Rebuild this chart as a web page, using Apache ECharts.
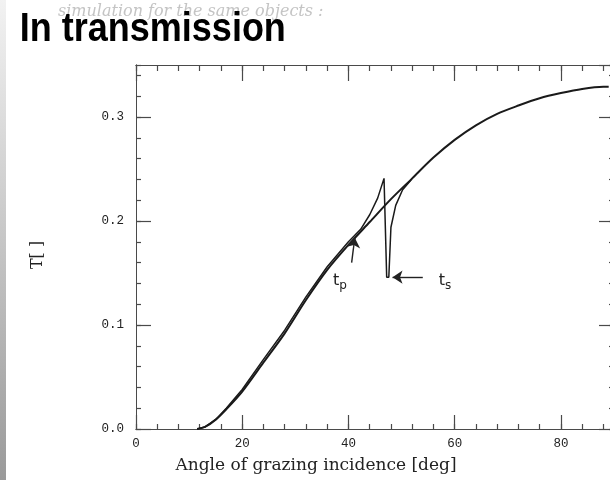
<!DOCTYPE html>
<html>
<head>
<meta charset="utf-8">
<script src="https://cdn.jsdelivr.net/npm/echarts@6/dist/echarts.min.js"></script>
<style>
  html, body { margin: 0; padding: 0; background: #fff; overflow: hidden; }
  #chart { width: 620px; height: 480px; }
</style>
</head>
<body>
<div id="chart"></div>
<script>
// Transmission vs. grazing angle, two polarisations
const tpCurve = [
  [11.5, 0.000], [13, 0.002], [15, 0.009], [17, 0.019], [20, 0.036],
  [24, 0.064], [28, 0.092], [32, 0.124], [36, 0.153], [40, 0.177],
  [44, 0.199], [48, 0.221], [52, 0.241], [56, 0.261], [60, 0.278],
  [64, 0.292], [68, 0.303], [72, 0.311], [76, 0.318], [80, 0.323],
  [84, 0.327], [88, 0.329], [89, 0.329]
];
const tsCurve = [
  [11.5, 0.000], [13, 0.002], [15, 0.009], [17, 0.020], [20, 0.038],
  [24, 0.067], [28, 0.095], [32, 0.127], [36, 0.156], [40, 0.180],
  [42.3, 0.192], [44, 0.206], [45.5, 0.222], [46.7, 0.241],
  [47.2, 0.146], [47.6, 0.146], [48.0, 0.194], [48.9, 0.215],
  [50.2, 0.230], [51.7, 0.239], [52, 0.241]
];
const xTickValues = [0, 20, 40, 60, 80];
const yTickValues = [0.0, 0.1, 0.2, 0.3];
const labelTp = { pos: [38.4, 0.142], arrowFrom: [40.6, 0.160], arrowTo: [41.2, 0.184] };
const labelTs = { pos: [58.2, 0.142], arrowFrom: [54.0, 0.146], arrowTo: [48.3, 0.146] };

const X_MAX = 90, Y_MAX = 0.35;
const ink = '#1a1a1a';
const axisInk = '#4a4a4a';

function xAxisDef(position, interval, tickLen, showLabel) {
  return {
    type: 'value', position, min: 0, max: X_MAX, interval,
    axisLine: { show: true, onZero: false, lineStyle: { color: axisInk, width: 1 } },
    axisTick: { show: true, inside: true, length: tickLen, lineStyle: { color: axisInk, width: 1.2 } },
    axisLabel: {
      show: showLabel, showMaxLabel: false, margin: 8,
      fontFamily: 'Liberation Mono', fontSize: 12.5, color: '#222',
      formatter: v => xTickValues.includes(v) ? String(v) : ''
    },
    splitLine: { show: false }
  };
}
function yAxisDef(position, interval, tickLen, showLabel) {
  return {
    type: 'value', position, min: 0, max: Y_MAX, interval,
    axisLine: { show: true, onZero: false, lineStyle: { color: axisInk, width: 1 } },
    axisTick: { show: true, inside: true, length: tickLen, lineStyle: { color: axisInk, width: 1.2 } },
    axisLabel: {
      show: showLabel, showMaxLabel: false, margin: 12,
      fontFamily: 'Liberation Mono', fontSize: 12.5, color: '#222',
      formatter: v => {
        const hit = yTickValues.find(t => Math.abs(t - v) < 1e-9);
        return hit === undefined ? '' : hit.toFixed(1);
      }
    },
    splitLine: { show: false }
  };
}

const chart = echarts.init(document.getElementById('chart'), null, { renderer: 'canvas' });
chart.setOption({
  animation: false,
  backgroundColor: '#fff',
  grid: { left: 136, top: 65, right: 6, bottom: 51, containLabel: false },
  xAxis: [
    xAxisDef('bottom', 20, 14, true),
    xAxisDef('bottom', 4, 5, false),
    xAxisDef('top', 20, 16, false),
    xAxisDef('top', 4, 6, false)
  ],
  yAxis: [
    yAxisDef('left', 0.1, 15, true),
    yAxisDef('left', 0.02, 5, false),
    yAxisDef('right', 0.1, 15, false),
    yAxisDef('right', 0.02, 5, false)
  ],
  graphic: [
    {
      type: 'rect', left: 0, top: 0, z: 0,
      shape: { width: 6, height: 480 },
      style: {
        fill: new echarts.graphic.LinearGradient(0, 0, 0, 1, [
          { offset: 0, color: '#f2f2f2' }, { offset: 1, color: '#9a9a9a' }
        ])
      }
    },
    {
      type: 'text', x: 58, y: 12, z: 1,
      style: {
        text: 'simulation for the same objects :',
        font: 'italic 16px "DejaVu Serif"', fill: '#c4c4c4',
        verticalAlign: 'middle'
      }
    },
    {
      type: 'text', x: 18, y: 30, scaleX: 0.9, originX: 18, z: 2,
      style: {
        text: 'In transmission',
        font: 'bold 40px "Liberation Sans"', fill: '#000',
        verticalAlign: 'middle'
      }
    },
    {
      type: 'text', x: 316, y: 466,
      style: {
        text: 'Angle of grazing incidence [deg]',
        font: '17px "DejaVu Serif"', fill: '#222',
        align: 'center', verticalAlign: 'middle'
      }
    },
    {
      type: 'text', x: 38, y: 255, rotation: Math.PI / 2,
      style: {
        text: 'T[ ]',
        font: '16px "DejaVu Serif"', fill: '#222',
        align: 'center', verticalAlign: 'middle'
      }
    }
  ],
  series: [
    {
      name: 'tp', type: 'line', data: tpCurve, showSymbol: false,
      smooth: 0.3,
      lineStyle: { color: ink, width: 2 }, z: 3,
      markLine: {
        silent: true, symbol: ['none', 'arrow'], symbolSize: 10,
        label: { show: false },
        lineStyle: { color: '#222', width: 1.4, type: 'solid' },
        data: [
          [{ coord: labelTp.arrowFrom }, { coord: labelTp.arrowTo }],
          [{ coord: labelTs.arrowFrom }, { coord: labelTs.arrowTo }]
        ]
      },
      markPoint: {
        silent: true, symbol: 'circle', symbolSize: 0,
        label: {
          show: true, position: 'inside', color: '#222',
          rich: {
            t: { fontFamily: 'DejaVu Sans', fontSize: 16, color: '#222' },
            s: { fontFamily: 'DejaVu Sans', fontSize: 12, color: '#222', padding: [9, 0, 0, 0] }
          }
        },
        data: [
          { coord: labelTp.pos, label: { formatter: '{t|t}{s|p}' } },
          { coord: labelTs.pos, label: { formatter: '{t|t}{s|s}' } }
        ]
      }
    },
    {
      name: 'ts', type: 'line', data: tsCurve, showSymbol: false,
      smooth: false,
      lineStyle: { color: ink, width: 1.5 }, z: 3
    }
  ]
});
</script>
</body>
</html>
